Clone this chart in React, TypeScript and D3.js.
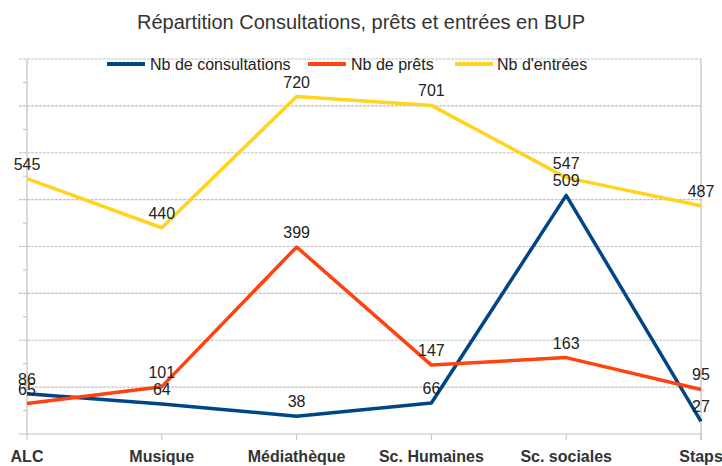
import React from "react";
import * as d3 from "d3";

const categories = ["ALC", "Musique", "Médiathèque", "Sc. Humaines", "Sc. sociales", "Staps"];
const consultations = [86, 64, 38, 66, 509, 27];
const prets = [65, 101, 399, 147, 163, 95];
const entrees = [545, 440, 720, 701, 547, 487];
const seriesNames = ["Nb de consultations", "Nb de prêts", "Nb d'entrées"];
const seriesColors = ["#004586", "#ff420e", "#ffd320"];
const yTicks = [0, 100, 200, 300, 400, 500, 600, 700, 800];
const yMinorTicks = [50, 150, 250, 350, 450, 550, 650, 750];

const W = 722;
const H = 466;
const FONT = "'Liberation Sans', Arial, sans-serif";

export default function App() {
  const left = 27, right = 701, top = 59, bottom = 434;
  const x = d3.scalePoint<string>().domain(categories).range([left, right]);
  const y = d3.scaleLinear().domain([0, 800]).range([bottom, top]);
  const series = [consultations, prets, entrees];
  const line = d3.line<number>().x((_, i) => x(categories[i])!).y((v) => y(v));

  const legendItems = [
    { swatch: 107, text: 150 },
    { swatch: 308, text: 351 },
    { swatch: 455, text: 497 },
  ];

  return (
    <svg width={W} height={H} style={{ position: "absolute", left: 0, top: 0, background: "#fff" }}>
      <rect width={W} height={H} fill="#fff" />
      <text x={361} y={29} textAnchor="middle" fontFamily={FONT} fontSize={20} fill="#333">
        Répartition Consultations, prêts et entrées en BUP
      </text>
      {yTicks.map((t) => (
        <line key={t} x1={left - 8} x2={right} y1={y(t)} y2={y(t)} stroke="#c0c0c0" strokeWidth={1.2} strokeDasharray={t === 0 ? undefined : "3 1"} />
      ))}
      {yMinorTicks.map((t) => (
        <line key={t} x1={left - 4} x2={left} y1={y(t)} y2={y(t)} stroke="#c0c0c0" strokeWidth={1} />
      ))}
      <line x1={left} x2={left} y1={top} y2={bottom} stroke="#c0c0c0" strokeWidth={1.2} />
      <line x1={right} x2={right} y1={top} y2={bottom + 6} stroke="#c0c0c0" strokeWidth={1.2} />
      {categories.map((c) => (
        <g key={c}>
          <line x1={x(c)} x2={x(c)} y1={bottom} y2={bottom + 6} stroke="#c0c0c0" strokeWidth={1} />
          <text x={x(c)} y={462} textAnchor="middle" fontFamily={FONT} fontSize={16} fontWeight="bold" fill="#333">
            {c}
          </text>
        </g>
      ))}
      {series.map((s, si) => (
        <path key={si} d={line(s)!} fill="none" stroke={seriesColors[si]} strokeWidth={3.5} strokeLinejoin="round" />
      ))}
      {series.map((s, si) =>
        s.map((v, i) => (
          <text key={si + "-" + i} x={x(categories[i])} y={y(v) - 9} textAnchor="middle" fontFamily={FONT} fontSize={16} fill="#222">
            {v}
          </text>
        ))
      )}
      {seriesNames.map((n, i) => (
        <g key={n}>
          <line x1={legendItems[i].swatch} x2={legendItems[i].swatch + 38} y1={64} y2={64} stroke={seriesColors[i]} strokeWidth={4} />
          <text x={legendItems[i].text} y={70} fontFamily={FONT} fontSize={16} fill="#222">
            {n}
          </text>
        </g>
      ))}
    </svg>
  );
}
